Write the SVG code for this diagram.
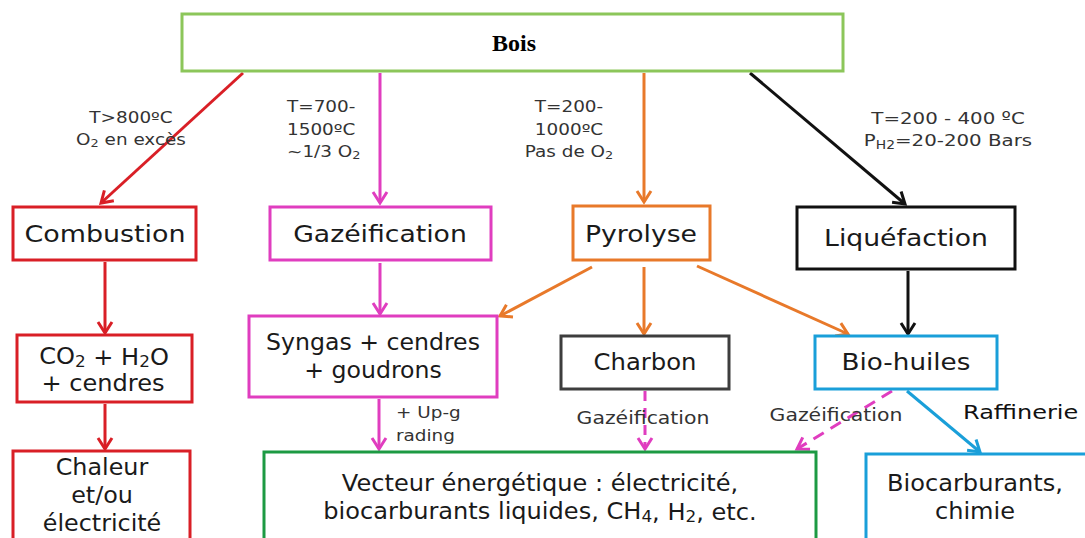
<svg xmlns="http://www.w3.org/2000/svg" width="1085" height="538" viewBox="0 0 1085 538">
<defs>
<style>
.box{fill:#fff;stroke-width:3}
.t{font-family:"DejaVu Sans",Verdana,sans-serif;fill:#1a1a1a;text-anchor:middle;dominant-baseline:central}
.n{font-size:23px}
.m{font-size:22.5px}
.s{font-size:16px;fill:#333}
.c{fill:none;stroke-width:3}
.sub{font-size:70%}
</style>
<marker id="aR" markerUnits="userSpaceOnUse" markerWidth="20" markerHeight="20" refX="13" refY="9" orient="auto"><path d="M2,2 L13,9 L2,16" fill="none" stroke="#d91f26" stroke-width="3"/></marker>
<marker id="aM" markerUnits="userSpaceOnUse" markerWidth="20" markerHeight="20" refX="13" refY="9" orient="auto"><path d="M2,2 L13,9 L2,16" fill="none" stroke="#e03dbf" stroke-width="3"/></marker>
<marker id="aO" markerUnits="userSpaceOnUse" markerWidth="20" markerHeight="20" refX="13" refY="9" orient="auto"><path d="M2,2 L13,9 L2,16" fill="none" stroke="#e8792a" stroke-width="3"/></marker>
<marker id="aK" markerUnits="userSpaceOnUse" markerWidth="20" markerHeight="20" refX="13" refY="9" orient="auto"><path d="M2,2 L13,9 L2,16" fill="none" stroke="#111" stroke-width="3"/></marker>
<marker id="aB" markerUnits="userSpaceOnUse" markerWidth="20" markerHeight="20" refX="13" refY="9" orient="auto"><path d="M2,2 L13,9 L2,16" fill="none" stroke="#1a9fd9" stroke-width="3"/></marker>
</defs>
<rect width="1085" height="538" fill="#fff"/>

<g id="connectors">
<line class="c" stroke="#d91f26" x1="243" y1="73" x2="101" y2="203" marker-end="url(#aR)"/>
<line class="c" stroke="#e03dbf" x1="380" y1="73" x2="380" y2="203" marker-end="url(#aM)"/>
<line class="c" stroke="#e8792a" x1="644" y1="73" x2="644" y2="202" marker-end="url(#aO)"/>
<line class="c" stroke="#111" x1="750" y1="73" x2="905" y2="204" marker-end="url(#aK)"/>
<line class="c" stroke="#d91f26" x1="105" y1="262" x2="105" y2="333" marker-end="url(#aR)"/>
<line class="c" stroke="#e03dbf" x1="380" y1="263" x2="380" y2="314" marker-end="url(#aM)"/>
<line class="c" stroke="#e8792a" x1="592" y1="267" x2="500" y2="316" marker-end="url(#aO)"/>
<line class="c" stroke="#e8792a" x1="644" y1="267" x2="644" y2="334" marker-end="url(#aO)"/>
<line class="c" stroke="#e8792a" x1="697" y1="266" x2="848" y2="334" marker-end="url(#aO)"/>
<line class="c" stroke="#111" x1="908" y1="271" x2="908" y2="334" marker-end="url(#aK)"/>
<line class="c" stroke="#d91f26" x1="105" y1="404" x2="105" y2="449" marker-end="url(#aR)"/>
<line class="c" stroke="#e03dbf" x1="379" y1="399" x2="379" y2="449" marker-end="url(#aM)"/>
<line class="c" stroke="#e03dbf" stroke-dasharray="10,7" x1="645" y1="391" x2="645" y2="449" marker-end="url(#aM)"/>
<line class="c" stroke="#e03dbf" stroke-dasharray="12,8" x1="892" y1="391" x2="797" y2="449" marker-end="url(#aM)"/>
<line class="c" stroke="#1a9fd9" x1="907" y1="391" x2="980" y2="452" marker-end="url(#aB)"/>
</g>

<g id="edge-labels">
<text class="t s" transform="translate(131,117) scale(1.15 1)">T&gt;800ºC</text>
<text class="t s" transform="translate(131,139) scale(1.15 1)">O<tspan class="sub" dy="4">2</tspan><tspan dy="-4"> en excès</tspan></text>
<text class="t s" style="text-anchor:start" transform="translate(287,106) scale(1.15 1)">T=700-</text>
<text class="t s" style="text-anchor:start" transform="translate(287,129) scale(1.15 1)">1500ºC</text>
<text class="t s" style="text-anchor:start" transform="translate(287,151) scale(1.15 1)">~1/3 O<tspan class="sub" dy="4">2</tspan></text>
<text class="t s" transform="translate(569,106) scale(1.15 1)">T=200-</text>
<text class="t s" transform="translate(569,129) scale(1.15 1)">1000ºC</text>
<text class="t s" transform="translate(569,151) scale(1.15 1)">Pas de O<tspan class="sub" dy="4">2</tspan></text>
<text class="t s" style="font-size:16.5px" transform="translate(948,118) scale(1.2 1)">T=200 - 400 ºC</text>
<text class="t s" style="font-size:16.5px" transform="translate(948,140) scale(1.2 1)">P<tspan class="sub" dy="4">H2</tspan><tspan dy="-4">=20-200 Bars</tspan></text>
<text class="t s" style="text-anchor:start" transform="translate(396,412) scale(1.15 1)">+ Up-g</text>
<text class="t s" style="text-anchor:start" transform="translate(396,435) scale(1.15 1)">rading</text>
<text class="t s" style="font-size:17px" transform="translate(643,418) scale(1.2 1)">Gazéification</text>
<text class="t s" style="font-size:17px" transform="translate(836,415) scale(1.2 1)">Gazéification</text>
<text class="t" style="font-size:20px;text-anchor:start;fill:#111" transform="translate(963,412) scale(1.2 1)">Raffinerie</text>
</g>

<g id="bois">
<rect class="box" x="182" y="14" width="661" height="57" stroke="#8cc65a"/>
<text x="514" y="43" style="font-family:'Liberation Serif','Times New Roman',serif;font-weight:bold;font-size:24px;text-anchor:middle;dominant-baseline:central;fill:#000">Bois</text>
</g>
<g id="combustion">
<rect class="box" x="13" y="207" width="183" height="53" stroke="#d91f26"/>
<text class="t n" transform="translate(105,234) scale(1.17 1)">Combustion</text>
</g>
<g id="gazeification">
<rect class="box" x="270" y="207" width="221" height="53" stroke="#e03dbf"/>
<text class="t n" transform="translate(380,234) scale(1.16 1)">Gazéification</text>
</g>
<g id="pyrolyse">
<rect class="box" x="573" y="206" width="137" height="54" stroke="#e8792a"/>
<text class="t n" transform="translate(641,234) scale(1.16 1)">Pyrolyse</text>
</g>
<g id="liquefaction">
<rect class="box" x="797" y="207" width="218" height="62" stroke="#111"/>
<text class="t n" transform="translate(906,238) scale(1.16 1)">Liquéfaction</text>
</g>
<g id="co2">
<rect class="box" x="17" y="335" width="175" height="67" stroke="#d91f26"/>
<text class="t m" transform="translate(104,356) scale(1.07 1)">CO<tspan class="sub" dy="5">2</tspan><tspan dy="-5"> + H</tspan><tspan class="sub" dy="5">2</tspan><tspan dy="-5">O</tspan></text>
<text class="t m" transform="translate(103,383) scale(1.07 1)">+ cendres</text>
</g>
<g id="syngas">
<rect class="box" x="249" y="316" width="248" height="81" stroke="#e03dbf"/>
<text class="t m" transform="translate(373,342) scale(1.05 1)">Syngas + cendres</text>
<text class="t m" transform="translate(373,370) scale(1.05 1)">+ goudrons</text>
</g>
<g id="charbon">
<rect class="box" x="561" y="336" width="168" height="53" stroke="#3d3d3d"/>
<text class="t m" transform="translate(645,362) scale(1.08 1)">Charbon</text>
</g>
<g id="biohuiles">
<rect class="box" x="815" y="336" width="182" height="53" stroke="#1a9fd9"/>
<text class="t n" transform="translate(906,362) scale(1.14 1)">Bio-huiles</text>
</g>
<g id="chaleur">
<rect class="box" x="13" y="451" width="177" height="100" stroke="#d91f26"/>
<text class="t m" transform="translate(102,467) scale(1.06 1)">Chaleur</text>
<text class="t m" transform="translate(102,495) scale(1.06 1)">et/ou</text>
<text class="t m" transform="translate(102,523) scale(1.06 1)">électricité</text>
</g>
<g id="vecteur">
<rect class="box" x="264" y="452" width="552" height="100" stroke="#1c9a43"/>
<text class="t m" transform="translate(540,483) scale(1.07 1)">Vecteur énergétique : électricité,</text>
<text class="t m" transform="translate(540,511) scale(1.07 1)">biocarburants liquides, CH<tspan class="sub" dy="5">4</tspan><tspan dy="-5">, H</tspan><tspan class="sub" dy="5">2</tspan><tspan dy="-5">, etc.</tspan></text>
</g>
<g id="biocarburants">
<rect class="box" x="866" y="454" width="230" height="100" stroke="#1a9fd9"/>
<text class="t m" transform="translate(975,483) scale(1.07 1)">Biocarburants,</text>
<text class="t m" transform="translate(975,511) scale(1.07 1)">chimie</text>
</g>
</svg>
